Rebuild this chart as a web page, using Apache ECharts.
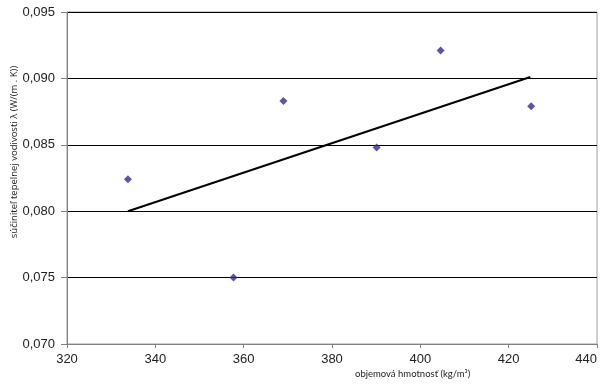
<!DOCTYPE html>
<html>
<head>
<meta charset="utf-8">
<script src="https://cdn.jsdelivr.net/npm/echarts@6/dist/echarts.min.js"></script>
<style>html,body{margin:0;padding:0;background:#fff}#c{width:600px;height:387px}</style>
</head>
<body>
<div id="c"></div>
<script>
var density = [333.8, 357.7, 369.0, 390.1, 404.6, 425.1];
var conductivity = [0.0824, 0.0750, 0.0883, 0.0848, 0.0921, 0.0879];
var trendX = [333.8, 424.9];
var trendY = [0.0800, 0.0901];
var xTitle = 'objemová hmotnosť (kg/m³)';
var yTitle = 'súčiniteľ tepelnej vodivosti λ (W/(m . K))';

var chart = echarts.init(document.getElementById('c'), null, {renderer: 'canvas'});
chart.setOption({
  animation: false,
  backgroundColor: '#fff',
  grid: {left: 67, right: 3, top: 12, bottom: 43, show: true, borderColor: '#a0a0a0', borderWidth: 1,
    backgroundColor: 'transparent', containLabel: false, outerBoundsMode: 'none'},
  xAxis: {
    type: 'value', min: 320, max: 440, interval: 20,
    axisLine: {show: true, onZero: false, lineStyle: {color: '#808080', width: 1}},
    axisTick: {show: true, length: 4, lineStyle: {color: '#808080'}},
    axisLabel: {color: '#222', fontFamily: 'Liberation Sans', fontSize: 13, margin: 9, alignMaxLabel: 'right'},
    splitLine: {show: false}
  },
  yAxis: {
    type: 'value', min: 0.070, max: 0.095, interval: 0.005,
    axisLine: {show: true, lineStyle: {color: '#808080', width: 1}},
    axisTick: {show: true, length: 6, lineStyle: {color: '#808080'}},
    axisLabel: {color: '#222', fontFamily: 'Liberation Sans', fontSize: 13, margin: 12,
      formatter: function (v) { return v.toFixed(3).replace('.', ','); }},
    splitLine: {show: true, lineStyle: {color: '#000', width: 1}}
  },
  graphic: [{
    type: 'text', left: 355, top: 369,
    style: {text: xTitle, fill: '#222', font: '9.5px Lato'}
  }, {
    type: 'text', x: 14, y: 152, rotation: Math.PI / 2,
    style: {text: yTitle, fill: '#222', font: '9.5px "Open Sans"', textAlign: 'center', textVerticalAlign: 'middle'}
  }],
  series: [
    {
      type: 'scatter', symbol: 'diamond', symbolSize: 8,
      itemStyle: {color: '#352a8c'},
      data: density.map(function (x, i) { return [x, conductivity[i]]; })
    },
    {
      type: 'line', symbol: 'none',
      lineStyle: {color: '#000', width: 2},
      data: trendX.map(function (x, i) { return [x, trendY[i]]; })
    }
  ]
});
</script>
</body>
</html>
